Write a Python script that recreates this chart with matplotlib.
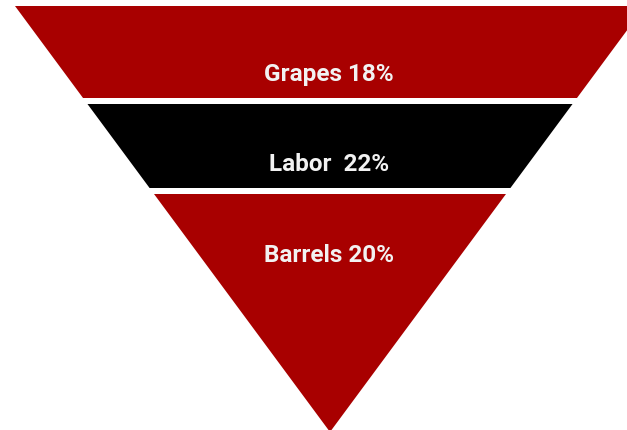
import matplotlib.pyplot as plt
from matplotlib.patches import Polygon

labels = ['Grapes 18%', 'Labor  22%', 'Barrels 20%']
colors = ['#a80000', '#000000', '#a80000']
# band edges (top, bottom) in pixel rows of the picture
bands = [(7, 99), (105, 189), (195, 433)]
label_y = [75, 165, 256]

# inverted triangle: top corners and bottom tip
left_top = (15, 7)
tip = (330, 433)
half_top = tip[0] - left_top[0]


def edges(y):
    frac = (tip[1] - y) / (tip[1] - left_top[1])
    return tip[0] - half_top * frac, tip[0] + half_top * frac


fig = plt.figure(figsize=(6.27, 4.31), dpi=100)
ax = fig.add_axes([0, 0, 1, 1])
ax.set_xlim(0, 627)
ax.set_ylim(431, 0)
ax.axis('off')

for (y0, y1), c, lab, ty in zip(bands, colors, labels, label_y):
    l0, r0 = edges(y0)
    l1, r1 = edges(y1)
    ax.add_patch(Polygon([(l0, y0), (r0, y0), (r1, y1), (l1, y1)],
                         closed=True, facecolor=c, edgecolor='none'))
    ax.text(329, ty, lab, color='#f2f2f2', fontsize=17.5, fontweight='bold',
            family='Roboto', ha='center', va='center')

fig.savefig('out.png', dpi=100)
